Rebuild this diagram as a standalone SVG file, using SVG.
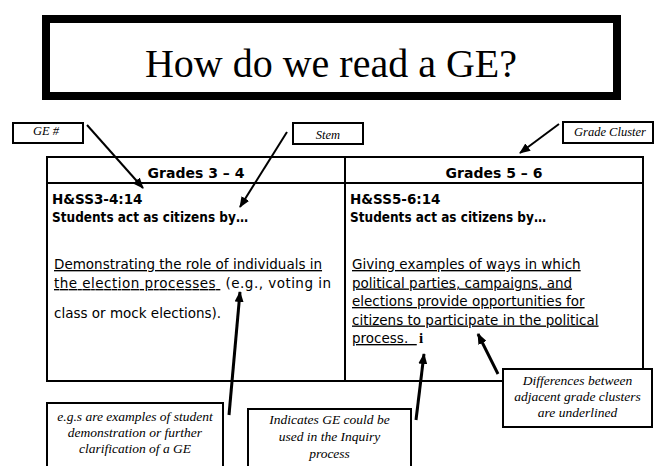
<svg xmlns="http://www.w3.org/2000/svg" width="655" height="466" viewBox="0 0 655 466">
<defs>
<marker id="ah" markerUnits="userSpaceOnUse" markerWidth="11" markerHeight="9" refX="10" refY="4.5" orient="auto">
<path d="M0,0 L11,4.5 L0,9 z" fill="#000"/>
</marker>
<style>
.box{fill:#fff;stroke:#000;stroke-width:2}
.lbl{font-family:"Liberation Serif","Times New Roman",serif;font-style:italic;font-size:12.5px;fill:#000}
.note{font-family:"Liberation Serif","Times New Roman",serif;font-style:italic;font-size:13.5px;fill:#000;text-anchor:middle}
.hd{font-family:"DejaVu Sans",Verdana,sans-serif;font-weight:bold;font-size:14px;text-anchor:middle}
.b{font-family:"DejaVu Sans",Verdana,sans-serif;font-weight:bold;font-size:13.5px}
.t{font-family:"DejaVu Sans",Verdana,sans-serif;font-size:13.5px}
.u{text-decoration:underline}
.arr{stroke:#000;stroke-width:2;fill:none;marker-end:url(#ah)}
.arr3{stroke:#000;stroke-width:3;fill:none;marker-end:url(#ah)}
</style>
</defs>
<rect width="655" height="466" fill="#fff"/>

<g id="title">
<rect x="46" y="19" width="571" height="77" fill="#fff" stroke="#000" stroke-width="8"/>
<text x="331" y="77" text-anchor="middle" font-family="Liberation Serif, Times New Roman, serif" font-size="40">How do we read a GE?</text>
</g>

<g id="table">
<rect x="47" y="157" width="596" height="224" fill="none" stroke="#000" stroke-width="2"/>
<line x1="47" y1="183" x2="643" y2="183" stroke="#000" stroke-width="2"/>
<line x1="345" y1="157" x2="345" y2="381" stroke="#000" stroke-width="2"/>
</g>

<g id="col1">
<text x="196" y="178" class="hd">Grades 3 – 4</text>
<text x="52" y="204" class="b">H&amp;SS3-4:14</text>
<text x="52" y="222" class="b" textLength="196" lengthAdjust="spacingAndGlyphs">Students act as citizens by…</text>
<text x="54" y="269" class="t"><tspan class="u">Demonstrating the role of individuals in</tspan></text>
<text x="54" y="288" class="t" xml:space="preserve" textLength="277" lengthAdjust="spacing"><tspan class="u">the election processes </tspan> (e.g., voting in</text>
<text x="54" y="318" class="t">class or mock elections).</text>
</g>

<g id="col2">
<text x="494" y="178" class="hd">Grades 5 – 6</text>
<text x="350" y="204" class="b">H&amp;SS5-6:14</text>
<text x="350" y="222" class="b" textLength="196" lengthAdjust="spacingAndGlyphs">Students act as citizens by…</text>
<text x="352" y="269" class="t u">Giving examples of ways in which</text>
<text x="352" y="287.5" class="t u">political parties, campaigns, and</text>
<text x="352" y="306" class="t u">elections provide opportunities for</text>
<text x="352" y="324.5" class="t u">citizens to participate in the political</text>
<text x="352" y="343" class="t u" xml:space="preserve">process.  </text>
<text x="419" y="343" font-family="Liberation Serif, Times New Roman, serif" font-weight="bold" font-size="15">i</text>
</g>

<g id="ge-label">
<rect x="13" y="123" width="70" height="20" class="box"/>
<text x="33" y="135" class="lbl">GE #</text>
</g>

<g id="stem-label">
<rect x="293" y="123" width="70" height="21" class="box"/>
<text x="328" y="139" class="lbl" text-anchor="middle">Stem</text>
</g>

<g id="cluster-label">
<rect x="563" y="122" width="90" height="21" class="box"/>
<text x="574" y="136" class="lbl" font-size="13">Grade Cluster</text>
</g>

<g id="eg-note">
<rect x="47" y="403" width="176" height="70" class="box"/>
<text class="note"><tspan x="135" y="421">e.g.s are examples of student</tspan><tspan x="135" y="437">demonstration or further</tspan><tspan x="135" y="453">clarification of a GE</tspan></text>
</g>

<g id="inquiry-note">
<rect x="248" y="409" width="163" height="64" class="box"/>
<text class="note"><tspan x="329.5" y="424">Indicates GE could be</tspan><tspan x="329.5" y="441">used in the Inquiry</tspan><tspan x="329.5" y="458">process</tspan></text>
</g>

<g id="diff-note">
<rect x="503" y="369" width="149" height="58" class="box"/>
<text class="note"><tspan x="577.5" y="385">Differences between</tspan><tspan x="577.5" y="401">adjacent grade clusters</tspan><tspan x="577.5" y="417">are underlined</tspan></text>
</g>

<g id="connectors">
<line x1="87" y1="125" x2="143" y2="188" class="arr"/>
<line x1="287" y1="132" x2="240" y2="207" class="arr"/>
<line x1="559" y1="124" x2="520" y2="153" class="arr"/>
<line x1="229" y1="415" x2="240" y2="292" class="arr3"/>
<line x1="416" y1="420" x2="424" y2="354" class="arr3"/>
<line x1="498" y1="374" x2="478" y2="334" class="arr3"/>
</g>
</svg>
